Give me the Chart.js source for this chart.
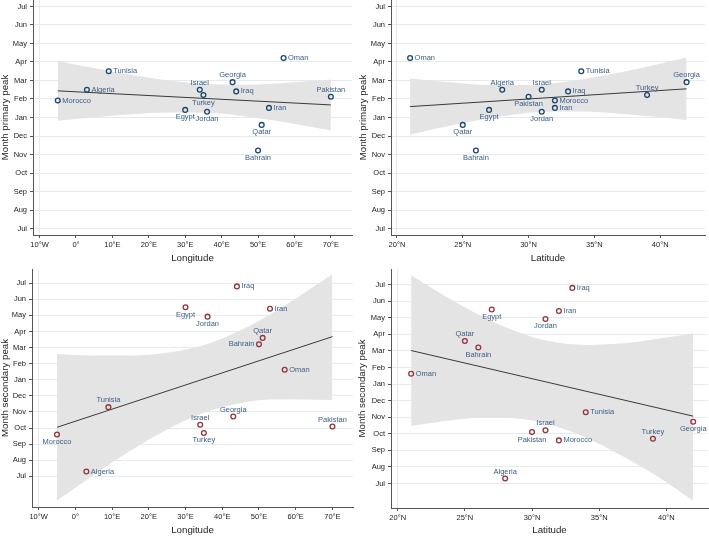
<!DOCTYPE html>
<html>
<head>
<meta charset="utf-8">
<script src="https://cdn.jsdelivr.net/npm/chart.js@4.4.1/dist/chart.umd.min.js"></script>
<style>
  body { margin: 0; background: #fff; }
  #wrap { position: relative; width: 709px; height: 536px; }
  canvas { position: absolute; }
</style>
</head>
<body>
<div id="wrap">
  <canvas id="lonPrimary" width="355" height="268" style="left:0;top:0"></canvas>
  <canvas id="latPrimary" width="354" height="268" style="left:355px;top:0"></canvas>
  <canvas id="lonSecondary" width="355" height="268" style="left:0;top:268px"></canvas>
  <canvas id="latSecondary" width="354" height="268" style="left:355px;top:268px"></canvas>
</div>
<script>
// countries and their coordinates
const countries = ['Morocco', 'Algeria', 'Tunisia', 'Egypt', 'Israel', 'Turkey', 'Jordan', 'Georgia', 'Iraq', 'Oman', 'Iran', 'Qatar', 'Bahrain', 'Pakistan'];
const longitude = [-5, 3, 9, 30, 34, 35, 36, 43, 44, 57, 53, 51, 50, 70];
const latitude = [32, 28, 34, 27, 31, 39, 31, 42, 33, 21, 32, 25, 26, 30];

// month of peak, 0 = July ... 12 = next July
const primaryPeak = [6.92, 7.5, 8.5, 6.41, 7.5, 7.21, 6.31, 7.91, 7.41, 9.21, 6.52, 5.6, 4.22, 7.12];
const secondaryPeak = [2.6, 0.3, 4.3, 10.5, 3.21, 2.7, 9.92, 3.72, 11.8, 6.62, 10.41, 8.6, 8.2, 3.1];

// axis ticks
const monthLabels = ['Jul', 'Aug', 'Sep', 'Oct', 'Nov', 'Dec', 'Jan', 'Feb', 'Mar', 'Apr', 'May', 'Jun', 'Jul'];
const lonTicks = [-10, 0, 10, 20, 30, 40, 50, 60, 70];
const lonLabels = ['10°W', '0°', '10°E', '20°E', '30°E', '40°E', '50°E', '60°E', '70°E'];
const latTicks = [20, 25, 30, 35, 40];
const latLabels = ['20°N', '25°N', '30°N', '35°N', '40°N'];

// linear fits (end points) and 95% CI bands
const fitLonX = [-5, 70];
const fitLatX = [21, 42];
const fitLonPrimary = [7.44, 6.68];
const fitLatPrimary = [6.59, 7.55];
const fitLonSecondary = [3.05, 8.68];
const fitLatSecondary = [8.02, 4.06];

const bandLonX = [-5, 5, 15, 25, 36, 45, 55, 70];
const bandLatX = [21, 24, 27, 30, 31, 34, 37, 40, 42];
const ciLonPrimaryHi = [9.06, 8.67, 8.31, 8.01, 7.81, 7.77, 7.84, 8.05];
const ciLonPrimaryLo = [5.82, 6.01, 6.17, 6.27, 6.25, 6.10, 5.82, 5.30];
const ciLatPrimaryHi = [8.11, 7.91, 7.76, 7.75, 7.79, 8.05, 8.44, 8.91, 9.24];
const ciLatPrimaryLo = [5.07, 5.55, 5.96, 6.25, 6.31, 6.33, 6.20, 6.01, 5.86];
const ciLonSecondaryHi = [7.60, 7.51, 7.51, 7.68, 8.23, 9.07, 10.33, 12.55];
const ciLonSecondaryLo = [-1.50, 0.09, 1.59, 2.92, 4.03, 4.55, 4.79, 4.75];
const ciLatSecondaryHi = [12.57, 11.08, 9.79, 8.84, 8.63, 8.36, 8.47, 8.80, 9.07];
const ciLatSecondaryLo = [3.47, 3.82, 3.99, 3.80, 3.63, 2.78, 1.53, 0.08, -1.05];

const NARROW = '"Liberation Sans Narrow", "Liberation Sans", Arial, sans-serif';
const REGULAR = '"Liberation Sans", Arial, sans-serif';
const NAVY = '#1a476f';
const MAROON = '#90353b';

function pts(xs, ys) {
    return xs.map((x, i) => ({ x: x, y: ys[i] }));
}

// country names next to markers; r/l/t/b = right, left, top, bottom
const pointLabels = {
    id: 'pointLabels',
    afterDatasetsDraw(chart, args, opts) {
        const meta = chart.getDatasetMeta(0);
        const ctx = chart.ctx;
        ctx.save();
        ctx.font = '7.5px ' + NARROW;
        ctx.fillStyle = '#3d5e86';
        meta.data.forEach((pt, i) => {
            const p = opts.pos[i];
            let x = pt.x, y = pt.y;
            if (p === 'r') { ctx.textAlign = 'left'; ctx.textBaseline = 'middle'; x += 4.5; }
            else if (p === 'l') { ctx.textAlign = 'right'; ctx.textBaseline = 'middle'; x -= 4.5; }
            else if (p === 't') { ctx.textAlign = 'center'; ctx.textBaseline = 'bottom'; y -= 3.2; }
            else { ctx.textAlign = 'center'; ctx.textBaseline = 'top'; y += 3.6; }
            ctx.fillText(countries[i], x, y);
        });
        ctx.restore();
    }
};

function makePanel(id, o) {
    const ctx = document.getElementById(id).getContext('2d');
    return new Chart(ctx, {
        type: 'scatter',
        data: {
            datasets: [{
                data: pts(o.xs, o.ys),
                pointStyle: 'circle',
                pointRadius: 2.4,
                pointBorderWidth: 1.3,
                borderColor: o.color,
                pointBorderColor: o.color,
                backgroundColor: 'transparent',
                pointBackgroundColor: 'transparent'
            }, {
                data: pts(o.fitX, o.fit),
                showLine: true,
                borderColor: '#3a3a3a',
                borderWidth: 1,
                pointRadius: 0
            }, {
                data: pts(o.bandX, o.hi),
                showLine: true,
                borderWidth: 0,
                borderColor: 'transparent',
                backgroundColor: '#e4e4e4',
                pointRadius: 0,
                cubicInterpolationMode: 'monotone',
                fill: '+1'
            }, {
                data: pts(o.bandX, o.lo),
                showLine: true,
                borderWidth: 0,
                borderColor: 'transparent',
                pointRadius: 0,
                cubicInterpolationMode: 'monotone',
                fill: false
            }]
        },
        options: {
            responsive: false,
            animation: false,
            devicePixelRatio: 1,
            layout: { padding: o.pad, autoPadding: false },
            scales: {
                x: {
                    type: 'linear',
                    min: o.xmin,
                    max: o.xmax,
                    afterBuildTicks: s => { s.ticks = o.ticks.map(v => ({ value: v })); },
                    afterFit: s => { s.height = o.xh; s.paddingLeft = 0; s.paddingRight = 0; },
                    ticks: {
                        autoSkip: false, maxRotation: 0, padding: 2, color: '#222',
                        font: { family: NARROW, size: 7.5 },
                        callback: v => o.tickLabels[o.ticks.indexOf(v)]
                    },
                    grid: {
                        color: c => c.index === 0 ? '#e3ebee' : 'transparent',
                        tickColor: '#555', tickLength: 3
                    },
                    border: { color: '#555', width: 1 },
                    title: {
                        display: true, text: o.xTitle, color: '#222',
                        font: { family: NARROW, size: 9.7 },
                        padding: { top: 0, bottom: o.xtPad }
                    }
                },
                y: {
                    type: 'linear',
                    min: o.ymin,
                    max: o.ymax,
                    afterBuildTicks: s => { s.ticks = monthLabels.map((m, i) => ({ value: i })); },
                    afterFit: s => { s.width = o.yw; s.paddingTop = 0; s.paddingBottom = 0; },
                    ticks: {
                        autoSkip: false, padding: 3, color: '#222',
                        font: { family: NARROW, size: 7.5 },
                        callback: v => monthLabels[v]
                    },
                    grid: { color: '#e3ebee', tickColor: '#555', tickLength: 3 },
                    border: { color: '#555', width: 1 },
                    title: {
                        display: true, text: o.yTitle, color: '#222',
                        font: { family: REGULAR, size: 9.7 },
                        padding: { top: o.ytPad, bottom: 0 }
                    }
                }
            },
            plugins: {
                legend: { display: false },
                tooltip: { enabled: false },
                pointLabels: { pos: o.pos }
            }
        },
        plugins: [pointLabels]
    });
}

makePanel('lonPrimary', {
    xs: longitude, ys: primaryPeak, color: NAVY,
    fitX: fitLonX, fit: fitLonPrimary, bandX: bandLonX, hi: ciLonPrimaryHi, lo: ciLonPrimaryLo,
    xmin: -11.8, xmax: 75.8, ticks: lonTicks, tickLabels: lonLabels,
    ymin: -0.35, ymax: 12.35,
    pad: { left: 0, right: 3, top: 0, bottom: 0 }, xh: 33, yw: 33, xtPad: 4.2, ytPad: 0,
    xTitle: 'Longitude', yTitle: 'Month primary peak',
    pos: ['r', 'r', 'r', 'b', 't', 'b', 'b', 't', 'r', 'r', 'r', 'b', 'b', 't']
});

makePanel('latPrimary', {
    xs: latitude, ys: primaryPeak, color: NAVY,
    fitX: fitLatX, fit: fitLatPrimary, bandX: bandLatX, hi: ciLatPrimaryHi, lo: ciLatPrimaryLo,
    xmin: 19.55, xmax: 43.4, ticks: latTicks, tickLabels: latLabels,
    ymin: -0.35, ymax: 12.35,
    pad: { left: 0, right: 4, top: 0, bottom: 0 }, xh: 33, yw: 36, xtPad: 4.2, ytPad: 2.5,
    xTitle: 'Latitude', yTitle: 'Month primary peak',
    pos: ['r', 't', 'r', 'b', 't', 't', 'b', 't', 'r', 'r', 'r', 'b', 'b', 'b']
});

makePanel('lonSecondary', {
    xs: longitude, ys: secondaryPeak, color: MAROON,
    fitX: fitLonX, fit: fitLonSecondary, bandX: bandLonX, hi: ciLonSecondaryHi, lo: ciLonSecondaryLo,
    xmin: -11.8, xmax: 75.6, ticks: lonTicks, tickLabels: lonLabels,
    ymin: -1.9, ymax: 12.88,
    pad: { left: 0, right: 2, top: 1, bottom: 0 }, xh: 29, yw: 32, xtPad: 0, ytPad: 0,
    xTitle: 'Longitude', yTitle: 'Month secondary peak',
    pos: ['b', 'r', 't', 'b', 't', 'b', 'b', 't', 'r', 'r', 'r', 't', 'l', 't']
});

makePanel('latSecondary', {
    xs: latitude, ys: secondaryPeak, color: MAROON,
    fitX: fitLatX, fit: fitLatSecondary, bandX: bandLatX, hi: ciLatSecondaryHi, lo: ciLatSecondaryLo,
    xmin: 19.5, xmax: 43.1, ticks: latTicks, tickLabels: latLabels,
    ymin: -1.48, ymax: 12.94,
    pad: { left: 0, right: 1, top: 1, bottom: 0 }, xh: 28, yw: 36, xtPad: 0, ytPad: 1.5,
    xTitle: 'Latitude', yTitle: 'Month secondary peak',
    pos: ['r', 't', 'r', 'b', 't', 't', 'b', 'b', 'r', 'r', 'r', 't', 'b', 'b']
});
</script>
</body>
</html>
